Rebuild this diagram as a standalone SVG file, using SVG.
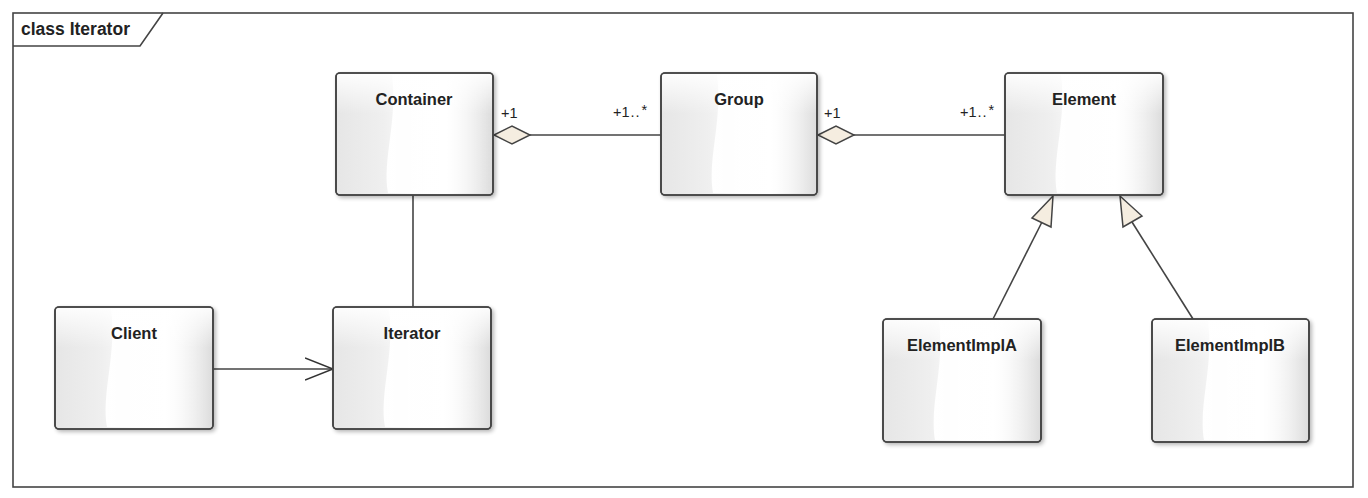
<svg xmlns="http://www.w3.org/2000/svg" width="1368" height="498" viewBox="0 0 1368 498">
<defs>
<linearGradient id="fillG" x1="0" y1="0" x2="1" y2="0">
<stop offset="0" stop-color="#e6e6e6"/>
<stop offset="0.3" stop-color="#efefef"/>
<stop offset="0.5" stop-color="#fcfcfc"/>
<stop offset="0.7" stop-color="#ffffff"/>
<stop offset="1" stop-color="#dcdcdc"/>
</linearGradient>
<linearGradient id="hiG" x1="0" y1="0" x2="1" y2="0">
<stop offset="0" stop-color="#ffffff" stop-opacity="1"/>
<stop offset="0.6" stop-color="#ffffff" stop-opacity="0.7"/>
<stop offset="1" stop-color="#ffffff" stop-opacity="0"/>
</linearGradient>
<linearGradient id="topG" x1="0" y1="0" x2="0" y2="1">
<stop offset="0" stop-color="#ffffff" stop-opacity="0.9"/>
<stop offset="1" stop-color="#ffffff" stop-opacity="0"/>
</linearGradient>
<filter id="sh" x="-10%" y="-10%" width="130%" height="130%">
<feGaussianBlur in="SourceAlpha" stdDeviation="2"/>
<feOffset dx="2" dy="2" result="b"/>
<feComponentTransfer><feFuncA type="linear" slope="0.3"/></feComponentTransfer>
<feMerge><feMergeNode/><feMergeNode in="SourceGraphic"/></feMerge>
</filter>
<marker id="openArrow" markerWidth="30" markerHeight="24" refX="28" refY="12" orient="auto" markerUnits="userSpaceOnUse">
<path d="M0,1 L28,12 L0,23" fill="none" stroke="#333" stroke-width="1.5"/>
</marker>
</defs>
<style>
.box{fill:url(#fillG);stroke:#444;stroke-width:1.6;filter:url(#sh)}
.hl{fill:url(#hiG)}
.top{fill:url(#topG)}
.edge{fill:none;stroke:#444;stroke-width:1.6}
.title{font-family:"Liberation Sans",Arial,sans-serif;font-size:16.5px;font-weight:bold;fill:#222;text-anchor:middle}
.mult{font-family:"Liberation Sans",Arial,sans-serif;font-size:14.5px;fill:#222}
.ln{stroke:#444;stroke-width:1.6;fill:none}
.dia{fill:#f5ede0;stroke:#444;stroke-width:1.5}
.tri{fill:#f5ede0;stroke:#444;stroke-width:1.5}
</style>
<rect x="0" y="0" width="1368" height="498" fill="#ffffff"/>
<g id="frame">
<rect x="13" y="13" width="1340" height="474" fill="none" stroke="#444" stroke-width="1.6"/>
<path d="M13,46 H140 L163,13" fill="none" stroke="#444" stroke-width="1.6"/>
<text x="21" y="35" font-family="'Liberation Sans',Arial,sans-serif" font-size="17.5" font-weight="bold" fill="#222">class Iterator</text>
</g>
<g id="connectors">
<line class="ln" x1="530" y1="135" x2="661" y2="135"/>
<path class="dia" d="M494,135 L512,126 L530,135 L512,144 Z"/>
<line class="ln" x1="854" y1="135" x2="1005" y2="135"/>
<path class="dia" d="M818,135 L836,126 L854,135 L836,144 Z"/>
<line class="ln" x1="413" y1="195" x2="413" y2="307"/>
<line class="ln" x1="213" y1="369" x2="333" y2="369" marker-end="url(#openArrow)"/>
<line class="ln" x1="993" y1="319" x2="1042" y2="222"/>
<path class="tri" d="M1053,196 L1032,218 L1051,227 Z"/>
<line class="ln" x1="1193" y1="319" x2="1132" y2="222"/>
<path class="tri" d="M1120,196 L1123,227 L1142,216 Z"/>
<text class="mult" x="501" y="118">+1</text>
<text class="mult" x="613" y="117">+1<tspan dx="1">.</tspan><tspan dx="1">.</tspan><tspan dx="2" dy="-2">*</tspan></text>
<text class="mult" x="824" y="118">+1</text>
<text class="mult" x="960" y="117">+1<tspan dx="1">.</tspan><tspan dx="1">.</tspan><tspan dx="2" dy="-2">*</tspan></text>
</g>
<g id="Container">
<rect class="box" x="336" y="73" width="157" height="122" rx="4"/>
<path class="hl" d="M392,75 C398,120 382,160 388,193 L491,193 L491,75 Z"/>
<rect class="top" x="337" y="74" width="155" height="40"/>
<rect class="edge" x="336" y="73" width="157" height="122" rx="4"/>
<text class="title" x="414" y="105">Container</text>
</g>
<g id="Group">
<rect class="box" x="661" y="73" width="156" height="122" rx="4"/>
<path class="hl" d="M717,75 C723,120 707,160 713,193 L815,193 L815,75 Z"/>
<rect class="top" x="662" y="74" width="154" height="40"/>
<rect class="edge" x="661" y="73" width="156" height="122" rx="4"/>
<text class="title" x="739" y="105">Group</text>
</g>
<g id="Element">
<rect class="box" x="1005" y="73" width="158" height="122" rx="4"/>
<path class="hl" d="M1061,75 C1067,120 1051,160 1057,193 L1161,193 L1161,75 Z"/>
<rect class="top" x="1006" y="74" width="156" height="40"/>
<rect class="edge" x="1005" y="73" width="158" height="122" rx="4"/>
<text class="title" x="1084" y="105">Element</text>
</g>
<g id="Client">
<rect class="box" x="55" y="307" width="158" height="122" rx="4"/>
<path class="hl" d="M111,309 C117,354 101,394 107,427 L211,427 L211,309 Z"/>
<rect class="top" x="56" y="308" width="156" height="40"/>
<rect class="edge" x="55" y="307" width="158" height="122" rx="4"/>
<text class="title" x="134" y="339">Client</text>
</g>
<g id="Iterator">
<rect class="box" x="333" y="307" width="158" height="122" rx="4"/>
<path class="hl" d="M389,309 C395,354 379,394 385,427 L489,427 L489,309 Z"/>
<rect class="top" x="334" y="308" width="156" height="40"/>
<rect class="edge" x="333" y="307" width="158" height="122" rx="4"/>
<text class="title" x="412" y="339">Iterator</text>
</g>
<g id="ElementImplA">
<rect class="box" x="883" y="319" width="158" height="123" rx="4"/>
<path class="hl" d="M939,321 C945,366 929,406 935,440 L1039,440 L1039,321 Z"/>
<rect class="top" x="884" y="320" width="156" height="40"/>
<rect class="edge" x="883" y="319" width="158" height="123" rx="4"/>
<text class="title" x="962" y="351">ElementImplA</text>
</g>
<g id="ElementImplB">
<rect class="box" x="1152" y="319" width="157" height="123" rx="4"/>
<path class="hl" d="M1208,321 C1214,366 1198,406 1204,440 L1307,440 L1307,321 Z"/>
<rect class="top" x="1153" y="320" width="155" height="40"/>
<rect class="edge" x="1152" y="319" width="157" height="123" rx="4"/>
<text class="title" x="1230" y="351">ElementImplB</text>
</g>
</svg>
